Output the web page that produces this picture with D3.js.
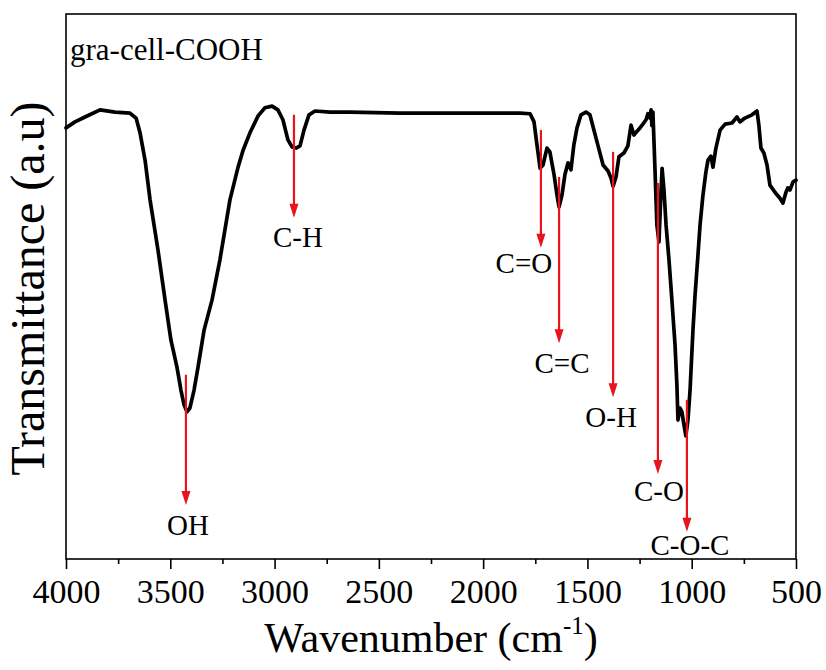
<!DOCTYPE html>
<html>
<head>
<meta charset="utf-8">
<script src="https://cdn.jsdelivr.net/npm/d3@7"></script>
<style>
  html, body { margin: 0; padding: 0; background: #ffffff; }
  svg { display: block; }
  text { font-family: "Liberation Serif", "Times New Roman", serif; fill: #000; }
</style>
</head>
<body>
<svg id="chart" width="826" height="670"></svg>
<script>
// ---------------- data ----------------
const sampleName = "gra-cell-COOH";
const xTitle = "Wavenumber (cm";
const xTitleSup = "-1";
const yTitle = "Transmittance (a.u)";

const majorTicks = [4000, 3500, 3000, 2500, 2000, 1500, 1000, 500];
const minorTicks = [3750, 3250, 2750, 2250, 1750, 1250, 750];

// FTIR spectrum: wavenumber (cm-1) and transmittance (a.u., 0-100)
const wavenumber = [
  4000, 3957, 3909, 3837, 3765, 3693, 3664, 3645, 3621, 3597,
  3559, 3525, 3497, 3468, 3449, 3434, 3420, 3406, 3386, 3367,
  3338, 3300, 3262, 3214, 3175, 3151, 3118, 3079, 3046, 3012,
  2984, 2960, 2936, 2916, 2897, 2878, 2859, 2835, 2806, 2734,
  2638, 2399, 2159, 1919, 1823, 1775, 1756, 1742, 1727, 1713,
  1694, 1680, 1660, 1646, 1636, 1622, 1608, 1593, 1579, 1565,
  1550, 1531, 1507, 1488, 1469, 1449, 1425, 1401, 1387, 1377,
  1363, 1349, 1325, 1306, 1291, 1277, 1262, 1248, 1234, 1219,
  1210, 1200, 1195, 1191, 1186, 1176, 1167, 1157, 1147, 1142,
  1133, 1123, 1109, 1095, 1080, 1071, 1066, 1056, 1047, 1037,
  1028, 1018, 1008, 994, 984, 970, 960, 946, 932, 922,
  908, 898, 884, 864, 840, 807, 783, 769, 745, 711,
  687, 678, 668, 654, 639, 625, 601, 577, 563, 548,
  539, 529, 514, 500
];
const transmittance = [
  79.1, 80.2, 81.1, 82.4, 82.0, 81.8, 80.9, 78.2, 73.2, 65.9,
  56.7, 47.5, 40.2, 35.2, 31.0, 28.3, 27.0, 27.7, 31.0, 35.2,
  42.0, 47.5, 54.9, 65.9, 71.9, 75.0, 78.2, 81.3, 82.8, 83.1,
  82.4, 80.6, 76.9, 75.6, 75.4, 75.8, 78.7, 81.5, 82.2, 82.0,
  82.0, 81.8, 81.8, 81.8, 81.8, 81.7, 80.2, 76.0, 71.7, 72.3,
  75.4, 74.7, 70.5, 66.8, 64.6, 66.8, 70.5, 72.7, 71.4, 76.0,
  79.1, 81.5, 82.0, 81.5, 78.7, 75.8, 72.3, 71.2, 69.9, 68.4,
  70.1, 73.8, 74.5, 75.8, 79.6, 77.8, 78.5, 79.1, 79.8, 80.6,
  81.7, 80.9, 82.4, 79.5, 82.0, 71.4, 61.3, 58.2, 67.7, 71.7,
  67.7, 61.3, 54.9, 47.5, 39.3, 31.9, 25.5, 27.7, 27.0, 24.6,
  22.6, 25.5, 31.0, 42.0, 48.4, 55.8, 61.3, 66.8, 71.0, 73.2,
  73.9, 71.9, 75.4, 78.7, 79.8, 80.0, 81.1, 80.2, 80.9, 81.5,
  82.2, 79.6, 75.4, 74.5, 72.3, 68.6, 67.3, 66.2, 65.3, 67.3,
  68.1, 67.7, 69.2, 69.5
];

// band assignments: position, arrow start and end (transmittance units)
const bandLabels = ["OH", "C-H", "C=O", "C=C", "O-H", "C-O", "C-O-C"];
const bandWavenumber = [3425, 2907, 1723, 1636, 1377, 1162, 1023];
const bandArrowFrom = [33.8, 81.5, 78.7, 70.1, 74.7, 69.0, 29.2];
const bandArrowTo = [9.9, 62.6, 57.1, 39.6, 29.7, 15.6, 5.0];

// ---------------- drawing ----------------
const svg = d3.select("#chart");
const W = 826, H = 670;
const margin = { left: 66, right: 30, top: 14, bottom: 111 };
const plotW = W - margin.left - margin.right;   // 730
const plotH = H - margin.top - margin.bottom;   // 545

const x = d3.scaleLinear().domain([4000, 500]).range([margin.left, margin.left + plotW]);
const y = d3.scaleLinear().domain([0, 100]).range([margin.top + plotH, margin.top]);

svg.append("rect").attr("x", 0).attr("y", 0).attr("width", W).attr("height", H).attr("fill", "#ffffff");

// spectrum
const pts = wavenumber.map((w, i) => [w, transmittance[i]]);
const line = d3.line().x(d => x(d[0])).y(d => y(d[1])).curve(d3.curveLinear);
svg.append("path")
  .datum(pts)
  .attr("d", line)
  .attr("fill", "none")
  .attr("stroke", "#000")
  .attr("stroke-width", 3.7)
  .attr("stroke-linejoin", "round")
  .attr("stroke-linecap", "round");

// arrows
const red = "#e8141c";
const labelOffset = { // dx, dy (px) of label from arrow tip
  "OH": [2, 30], "C-H": [4, 29], "C=O": [-17, 25], "C=C": [3, 30],
  "O-H": [-2, 30], "C-O": [1, 27], "C-O-C": [3, 23]
};
bandLabels.forEach((lab, i) => {
  const cx = x(bandWavenumber[i]);
  const y0 = y(bandArrowFrom[i]);
  const y1 = y(bandArrowTo[i]);
  const headL = 14, headW = 4.5;
  svg.append("line")
    .attr("x1", cx).attr("x2", cx)
    .attr("y1", y0).attr("y2", y1 - headL + 2)
    .attr("stroke", red).attr("stroke-width", 2.2);
  svg.append("path")
    .attr("d", `M${cx - headW},${y1 - headL} L${cx + headW},${y1 - headL} L${cx},${y1} Z`)
    .attr("fill", red);
  const off = labelOffset[lab];
  svg.append("text")
    .attr("x", cx + off[0]).attr("y", y1 + off[1])
    .attr("text-anchor", "middle")
    .attr("font-size", 29)
    .text(lab);
});

// axes ticks
const gx = svg.append("g").attr("transform", `translate(0,${margin.top + plotH})`);
gx.call(d3.axisBottom(x).tickValues(majorTicks).tickSize(10).tickPadding(10).tickFormat(d3.format("d")));
gx.select(".domain").remove();
gx.selectAll(".tick line").attr("stroke", "#000").attr("stroke-width", 1.6);
gx.selectAll(".tick text")
  .attr("font-family", '"Liberation Serif", "Times New Roman", serif')
  .attr("font-size", 34).attr("fill", "#000");

const gxm = svg.append("g").attr("transform", `translate(0,${margin.top + plotH})`);
gxm.call(d3.axisBottom(x).tickValues(minorTicks).tickSize(5).tickFormat(""));
gxm.select(".domain").remove();
gxm.selectAll(".tick line").attr("stroke", "#000").attr("stroke-width", 1.6);

// frame
svg.append("rect")
  .attr("x", margin.left).attr("y", margin.top)
  .attr("width", plotW).attr("height", plotH)
  .attr("fill", "none").attr("stroke", "#000").attr("stroke-width", 1.6);

// sample name
svg.append("text")
  .attr("x", 70).attr("y", 60)
  .attr("font-size", 31)
  .text(sampleName);

// x title
const xt = svg.append("text")
  .attr("x", margin.left + plotW / 2).attr("y", 652)
  .attr("text-anchor", "middle")
  .attr("font-size", 42);
xt.append("tspan").text(xTitle);
xt.append("tspan").attr("dy", -18).attr("font-size", 25).text(xTitleSup);
xt.append("tspan").attr("dy", 18).text(")");

// y title
svg.append("text")
  .attr("transform", `translate(44,${margin.top + plotH / 2 + 2}) rotate(-90)`)
  .attr("text-anchor", "middle")
  .attr("font-size", 48)
  .text(yTitle);
</script>
</body>
</html>
